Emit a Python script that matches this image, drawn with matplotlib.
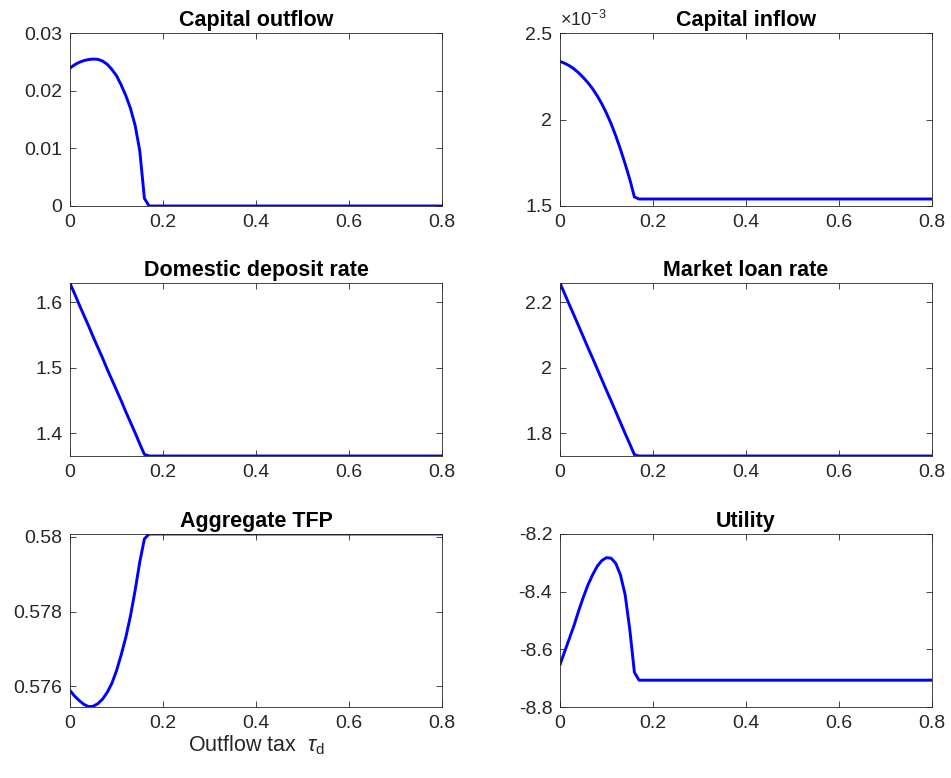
import matplotlib

matplotlib.use("Agg")
import matplotlib.pyplot as plt
from matplotlib.ticker import FuncFormatter

plt.rcParams["font.family"] = ["Liberation Sans", "DejaVu Sans"]
plt.rcParams["mathtext.fontset"] = "custom"
plt.rcParams["mathtext.rm"] = "Liberation Sans"
plt.rcParams["mathtext.it"] = "Liberation Sans:italic"

# outflow tax grid (flat after the kink, so the last point is the right edge)
tau = [0.00, 0.01, 0.02, 0.03, 0.04, 0.05, 0.06, 0.07, 0.08, 0.09,
       0.10, 0.11, 0.12, 0.13, 0.14, 0.15, 0.16, 0.17, 0.80]

capital_outflow = [0.02392, 0.02450, 0.02492, 0.02522, 0.02540, 0.02548, 0.02543,
                   0.02513, 0.02458, 0.02368, 0.02260, 0.02100, 0.01915, 0.01695,
                   0.01400, 0.00960, 0.00133, 0.0, 0.0]
capital_inflow = [2.336e-3, 2.325e-3, 2.311e-3, 2.293e-3, 2.270e-3, 2.243e-3, 2.213e-3,
                  2.178e-3, 2.137e-3, 2.090e-3, 2.036e-3, 1.975e-3, 1.905e-3, 1.828e-3,
                  1.744e-3, 1.655e-3, 1.552e-3, 1.5405e-3, 1.5405e-3]
deposit_rate = [1.629, 1.613, 1.596, 1.580, 1.564, 1.547, 1.531, 1.515, 1.498, 1.482,
                1.466, 1.450, 1.433, 1.417, 1.401, 1.384, 1.368, 1.3655, 1.3655]
loan_rate = [2.259, 2.226, 2.193, 2.161, 2.128, 2.095, 2.062, 2.030, 1.997, 1.964,
             1.931, 1.899, 1.866, 1.833, 1.800, 1.768, 1.735, 1.731, 1.731]
tfp = [0.57589, 0.57574, 0.57562, 0.57552, 0.57546, 0.57547, 0.57554, 0.57566,
       0.57584, 0.57608, 0.57642, 0.57684, 0.57731, 0.57788, 0.57856, 0.57932,
       0.57994, 0.58007, 0.58007]
utility = [-8.653, -8.608, -8.563, -8.518, -8.467, -8.420, -8.377, -8.342, -8.312,
           -8.292, -8.282, -8.284, -8.302, -8.342, -8.410, -8.530, -8.680, -8.707, -8.707]

titles = ["Capital outflow", "Capital inflow", "Domestic deposit rate",
          "Market loan rate", "Aggregate TFP", "Utility"]
series = [capital_outflow, capital_inflow, deposit_rate, loan_rate, tfp, utility]
ylims = [(0, 0.03), (1.5e-3, 2.5e-3), (1.3655, 1.6295), (1.731, 2.259),
         (0.57545, 0.58007), (-8.8, -8.2)]
yticks = [[0, 0.01, 0.02, 0.03], [1.5e-3, 2e-3, 2.5e-3], [1.4, 1.5, 1.6],
          [1.8, 2.0, 2.2], [0.576, 0.578, 0.580], [-8.8, -8.6, -8.4, -8.2]]
xticks = [0, 0.2, 0.4, 0.6, 0.8]

W, H = 951, 778
fig = plt.figure(figsize=(W / 100, H / 100), dpi=100)
lefts = [70, 560]
tops = [33, 283, 534]
ax_w, ax_h = 372, 173

dark = "#262626"
for i, (title, ys) in enumerate(zip(titles, series)):
    r, c = divmod(i, 2)
    ax = fig.add_axes([lefts[c] / W, 1 - (tops[r] + ax_h) / H, ax_w / W, ax_h / H])
    ax.plot(tau, ys, color="#0000ff", linewidth=2.1)
    ax.set_xlim(0, 0.8)
    ax.set_ylim(*ylims[i])
    ax.set_xticks(xticks)
    ax.set_yticks(yticks[i])
    ax.xaxis.set_major_formatter(FuncFormatter(lambda v, p: f"{v:g}"))
    if i == 1:
        ax.yaxis.set_major_formatter(FuncFormatter(lambda v, p: f"{v * 1e3:g}"))
        ax.text(0.0, 1.02, r"$\times$10$^{\mathregular{-3}}$", transform=ax.transAxes,
                fontsize=13, color=dark, ha="left", va="bottom")
    else:
        ax.yaxis.set_major_formatter(FuncFormatter(lambda v, p: f"{v:g}"))
    ax.tick_params(direction="in", top=True, right=True, length=4, width=0.6,
                   labelsize=14, colors=dark, pad=5.5)
    for s in ax.spines.values():
        s.set_color(dark)
        s.set_linewidth(0.6)
    ax.set_title(title, fontsize=15.5, fontweight="bold", pad=5)
    if i == 4:
        ax.set_xlabel(r"Outflow tax  $\tau_{\mathregular{d}}$", fontsize=15.5, color=dark,
                      labelpad=1)

fig.savefig("out.png", dpi=100)
